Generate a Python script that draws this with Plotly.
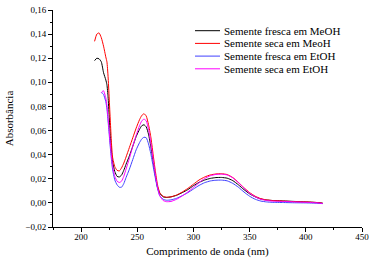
import plotly.graph_objects as go

tail = [285,290,295,300,305,310,315,320,325,330,335,340,345,350,355,360,365,370,380,390,400,410,415]
wl_meoh = [212,214,216,218,220,222,223,224,225,226,227,228,230,232,234,236,238,240,243,246,249,252,254,256,258,260,262,264,266,268,270,273,276,280] + tail
wl_etoh = [218,219,220,222,223,224,225,226,227,228,230,232,234,236,238,240,243,246,249,252,254,256,258,260,262,264,266,268,270,273,276,280] + tail

fresca_meoh = [0.118,0.120,0.1195,0.117,0.108,0.102,0.098,0.088,0.072,0.056,0.043,0.034,0.026,0.022,0.0215,0.023,0.027,0.032,0.039,0.047,0.055,0.061,0.064,0.0648,0.063,0.057,0.047,0.035,0.023,0.013,0.008,0.005,0.0045,0.005,
               0.0063,0.0085,0.011,0.0143,0.017,0.019,0.0203,0.021,0.0211,0.0205,0.0185,0.015,0.011,0.0075,0.005,0.0032,0.0024,0.002,0.0016,0.0012,0.0008,0.0003,-0.0002]
seca_meoh = [0.134,0.140,0.141,0.137,0.130,0.121,0.117,0.105,0.087,0.068,0.050,0.038,0.030,0.027,0.0265,0.029,0.033,0.038,0.046,0.054,0.062,0.069,0.0725,0.074,0.072,0.065,0.055,0.041,0.027,0.015,0.0085,0.0055,0.0047,0.005,
             0.0065,0.009,0.012,0.0155,0.019,0.0215,0.0232,0.024,0.0242,0.0235,0.021,0.017,0.0125,0.0085,0.0055,0.0035,0.0025,0.002,0.0015,0.001,0.0008,0.0003,-0.0003]
fresca_etoh = [0.0915,0.091,0.090,0.084,0.078,0.068,0.057,0.046,0.036,0.028,0.019,0.015,0.013,0.013,0.016,0.021,0.028,0.036,0.044,0.050,0.053,0.0545,0.054,0.049,0.041,0.031,0.021,0.012,0.006,0.003,0.0022,0.0025,
               0.0038,0.006,0.0085,0.0115,0.0145,0.0168,0.0182,0.0188,0.0189,0.0183,0.0162,0.013,0.009,0.0055,0.003,0.0015,0.0008,0.0005,0.0003,0.0001,0.0,-0.0003,-0.0006]
seca_etoh = [0.0915,0.0925,0.093,0.087,0.081,0.071,0.060,0.049,0.039,0.031,0.022,0.018,0.0169,0.018,0.022,0.028,0.037,0.047,0.056,0.064,0.068,0.0695,0.068,0.061,0.050,0.037,0.024,0.013,0.006,0.002,0.001,0.0012,
             0.003,0.0058,0.009,0.0128,0.0168,0.0202,0.0225,0.0236,0.0238,0.0232,0.0208,0.0168,0.0122,0.008,0.005,0.003,0.002,0.0015,0.0012,0.0008,0.0005,0.0,-0.0005]

series = [
    ("Semente fresca em MeOH", wl_meoh, fresca_meoh, "#000000"),
    ("Semente seca em MeoH", wl_meoh, seca_meoh, "#ff0000"),
    ("Semente fresca em EtOH", wl_etoh, fresca_etoh, "#4040ff"),
    ("Semente seca em EtOH", wl_etoh, seca_etoh, "#ff00ff"),
]

FONT = "Liberation Serif"
W, H = 372, 265
ML, MR, MT, MB = 53, 10, 10, 38
PW, PH = W - ML - MR, H - MT - MB

fig = go.Figure()
for name, x, y, c in series:
    fig.add_trace(go.Scatter(x=x, y=y, name=name, mode="lines", showlegend=False,
                             line=dict(color=c, width=1, shape="spline", smoothing=0.5)))

# compact legend (line sample + label), rows 12.7 px apart
for i, (name, x, y, c) in enumerate(series):
    py = 30.7 + i * 12.7
    yp = (H - MB - py) / PH
    fig.add_shape(type="line", xref="paper", yref="paper",
                  x0=(195 - ML) / PW, x1=(220 - ML) / PW, y0=yp, y1=yp,
                  line=dict(color=c, width=1))
    fig.add_annotation(xref="paper", yref="paper", x=(222 - ML) / PW, y=yp,
                       xanchor="left", yanchor="middle", showarrow=False, text=name,
                       font=dict(family=FONT, size=11, color="black"))

axis_common = dict(showline=True, linecolor="black", linewidth=1, showgrid=False,
                   zeroline=False, ticks="outside", ticklen=4, tickcolor="black",
                   automargin=False,
                   tickfont=dict(family=FONT, size=9, color="black"))
fig.update_xaxes(range=[175, 450], dtick=50, tick0=0, ticklabelstandoff=-3,
                 minor=dict(ticks="outside", ticklen=2, dtick=25, tick0=0, tickcolor="black"),
                 title=dict(text="Comprimento de onda (nm)", font=dict(family=FONT, size=11, color="black"), standoff=6),
                 **axis_common)
fig.update_yaxes(range=[-0.02, 0.16], dtick=0.02, tick0=0, tickformat=".2f",
                 minor=dict(ticks="outside", ticklen=2, dtick=0.01, tick0=0, tickcolor="black"),
                 title=dict(text="Absorbância", font=dict(family=FONT, size=11, color="black"), standoff=9),
                 **axis_common)
fig.update_layout(
    template="none",
    width=W, height=H,
    margin=dict(l=ML, r=MR, t=MT, b=MB),
    paper_bgcolor="white", plot_bgcolor="white",
    separators=",.",
    showlegend=False,
)
fig.write_html("out.html", config={"displayModeBar": False},
               post_script="document.body.style.margin='0';document.body.style.overflow='hidden';")
